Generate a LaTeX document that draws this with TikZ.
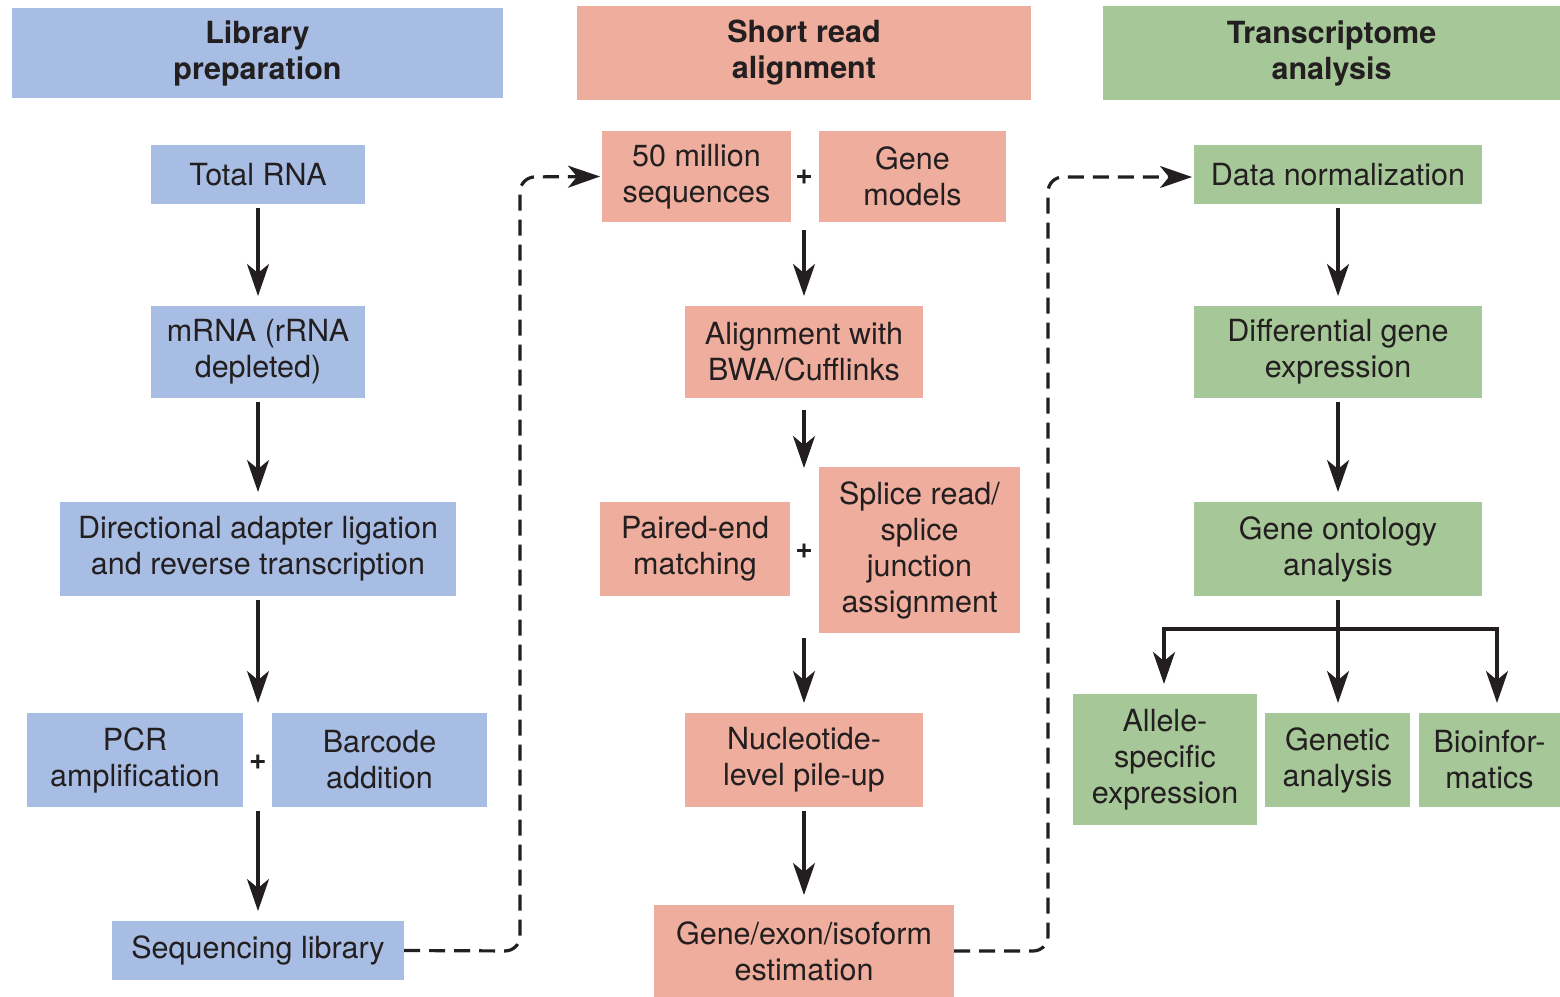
\documentclass[tikz,border=0pt]{standalone}
\usepackage{fontspec}
\setmainfont{TeX Gyre Heros}
\usetikzlibrary{arrows.meta}
\definecolor{cblue}{HTML}{A8BDE3}
\definecolor{csal}{HTML}{EEAD9D}
\definecolor{cgreen}{HTML}{A6C797}
\definecolor{ink}{HTML}{231F20}
\begin{document}
\begin{tikzpicture}[x=1pt,y=-1pt,
  every node/.style={inner sep=0pt, outer sep=0pt, align=center, text=ink,
    font=\fontsize{30.5}{36}\selectfont},
  bbox/.style={fill=cblue},
  sbox/.style={fill=csal},
  gbox/.style={fill=cgreen},
  head/.style={font=\fontsize{30.5}{36}\selectfont\bfseries},
  arr/.style={draw=ink, line width=3.2pt, -{Stealth[length=32pt,width=22pt,inset=9pt]}, shorten <=4pt, shorten >=10pt},
  dashline/.style={draw=ink, line width=3.2pt, dash pattern=on 16pt off 9pt, rounded corners=15pt, -{Stealth[length=32pt,width=22pt,inset=9pt]}},
  plus/.style={font=\fontsize{30}{32}\selectfont\bfseries}
]
\useasboundingbox (0,0) rectangle (1560,996);
% headers
\node[bbox,head,minimum width=491pt,minimum height=90pt] (h1) at (257.5,53) {Library\\preparation};
\node[sbox,head,minimum width=454pt,minimum height=94pt] (h2) at (804,53) {Short read\\alignment};
\node[gbox,head,minimum width=457pt,minimum height=94pt] (h3) at (1331.5,53) {Transcriptome\\analysis};
% left column
\node[bbox,minimum width=214pt,minimum height=59pt] (total) at (258,174.5) {Total RNA};
\node[bbox,minimum width=214pt,minimum height=92pt] (mrna) at (258,352) {mRNA (rRNA\\depleted)};
\node[bbox,minimum width=396pt,minimum height=94pt] (dir) at (258,549) {Directional adapter ligation\\and reverse transcription};
\node[bbox,minimum width=216pt,minimum height=94pt] (pcr) at (135,760) {PCR\\amplification};
\node[bbox,minimum width=215pt,minimum height=94pt] (bar) at (379.5,760) {Barcode\\addition};
\node[plus] (p1) at (258,762) {+};
\node[bbox,minimum width=292pt,minimum height=59pt] (seq) at (258,950.5) {Sequencing library};
\draw[arr] (total.south) -- (mrna.north);
\draw[arr] (mrna.south) -- (dir.north);
\draw[arr] (dir.south) -- (dir.south |- pcr.north);
\draw[arr] (seq.north |- pcr.south) -- (seq.north);
% middle column
\node[sbox,minimum width=189pt,minimum height=91pt] (fifty) at (696.5,176.5) {50 million\\sequences};
\node[sbox,minimum width=187pt,minimum height=91pt] (gm) at (912.5,176.5) {Gene\\models};
\node[plus] (p2) at (804,177) {+};
\node[sbox,minimum width=238pt,minimum height=92pt] (align) at (804,352) {Alignment with\\BWA/Cufflinks};
\node[sbox,minimum width=190pt,minimum height=94pt] (paired) at (695,549) {Paired-end\\matching};
\node[sbox,minimum width=201pt,minimum height=166pt] (splice) at (919.5,550) {Splice read/\\splice\\junction\\assignment};
\node[plus] (p3) at (804,551) {+};
\node[sbox,minimum width=238pt,minimum height=94pt] (nuc) at (804,760) {Nucleotide-\\level pile-up};
\node[sbox,minimum width=300pt,minimum height=92pt] (gene) at (804,951) {Gene/exon/isoform\\estimation};
\coordinate (m1) at (804,226);
\coordinate (m2) at (804,406);
\coordinate (m3) at (804,468);
\coordinate (m4) at (804,634);
\draw[arr] (m1) -- (align.north);
\draw[arr, shorten >=0pt] (m2) -- (m3);
\draw[arr] (m4) -- (nuc.north);
\draw[arr] (nuc.south) -- (gene.north);
% right column
\node[gbox,minimum width=288pt,minimum height=59pt] (norm) at (1338,174.5) {Data normalization};
\node[gbox,minimum width=288pt,minimum height=92pt] (diff) at (1338,352) {Differential gene\\expression};
\node[gbox,minimum width=288pt,minimum height=94pt] (onto) at (1338,549) {Gene ontology\\analysis};
\node[gbox,minimum width=184pt,minimum height=131pt] (allele) at (1165,759.5) {Allele-\\specific\\expression};
\node[gbox,minimum width=145pt,minimum height=94pt] (genetic) at (1337.5,760) {Genetic\\analysis};
\node[gbox,minimum width=141pt,minimum height=94pt] (bio) at (1489.5,760) {Bioinfor-\\matics};
\draw[arr] (norm.south) -- (diff.north);
\draw[arr] (diff.south) -- (onto.north);
\coordinate (br) at (1338,629);
\draw[arr] (onto.south) -- (onto.south |- genetic.north);
\draw[arr, shorten <=0pt] (br) -| ([xshift=-1pt]allele.north);
\draw[arr, shorten <=0pt] (br) -| ([xshift=7.5pt]bio.north);
% dashed connectors
\coordinate (d1) at (520,951);
\coordinate (d2) at (520,177);
\draw[dashline] (seq.east) -- (d1) -- (d2) -- ([xshift=-2pt]fifty.west);
\coordinate (e1) at (1048,951);
\coordinate (e2) at (1048,177);
\draw[dashline] (gene.east) -- (e1) -- (e2) -- ([xshift=-2pt]norm.west |- e2);
\end{tikzpicture}
\end{document}
